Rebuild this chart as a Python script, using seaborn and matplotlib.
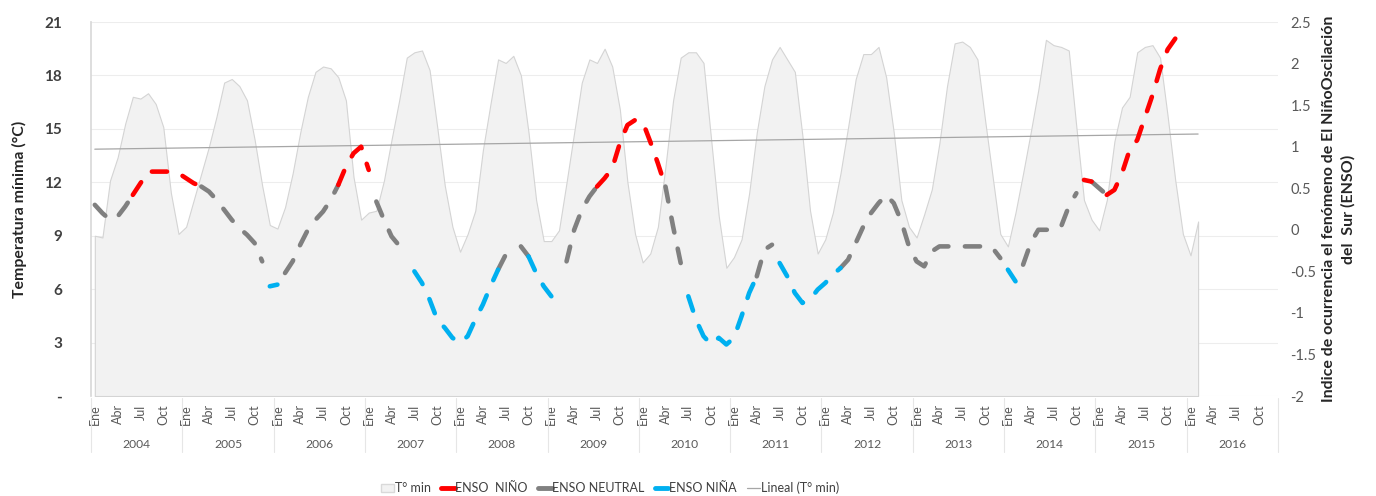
import numpy as np
import pandas as pd
import matplotlib
matplotlib.use("Agg")
import matplotlib.pyplot as plt
import matplotlib.transforms as mtransforms
from matplotlib.patches import Patch
from matplotlib.lines import Line2D
import seaborn as sns

anios = list(range(2004, 2017))
meses = ["Ene", "Feb", "Mar", "Abr", "May", "Jun", "Jul", "Ago", "Sep", "Oct", "Nov", "Dic"]

# T° min mensual (Ene 2004 - Feb 2016)
tmin = [9.0, 8.9, 12.1, 13.4, 15.3, 16.8, 16.7, 17.0, 16.4, 15.1, 11.4, 9.1,
        9.5, 11.0, 12.5, 14.0, 15.7, 17.6, 17.8, 17.4, 16.6, 14.4, 11.8, 9.6,
        9.4, 10.6, 12.5, 14.8, 16.8, 18.2, 18.5, 18.4, 17.9, 16.6, 12.3, 9.9,
        10.3, 10.4, 12.1, 14.4, 16.6, 19.0, 19.3, 19.4, 18.3, 15.1, 11.8, 9.5,
        8.1, 9.1, 10.4, 13.8, 16.4, 18.9, 18.7, 19.1, 18.0, 14.8, 11.0, 8.7,
        8.7, 9.3, 12.0, 14.8, 17.6, 18.9, 18.7, 19.5, 18.5, 16.1, 12.0, 9.1,
        7.5, 8.0, 9.5, 12.9, 16.6, 19.0, 19.3, 19.3, 18.7, 14.4, 10.1, 7.2,
        7.8, 8.8, 11.4, 14.8, 17.4, 18.9, 19.6, 18.9, 18.2, 14.6, 10.4, 8.0,
        8.8, 10.3, 12.5, 15.1, 17.8, 19.2, 19.2, 19.6, 17.9, 14.8, 11.0, 9.5,
        8.9, 10.2, 11.6, 14.2, 17.4, 19.8, 19.9, 19.6, 18.9, 15.5, 12.3, 9.1,
        8.4, 10.3, 12.5, 14.8, 17.2, 20.0, 19.7, 19.6, 19.4, 15.1, 11.0, 9.9,
        9.3, 11.0, 14.3, 16.2, 16.8, 19.3, 19.6, 19.7, 19.0, 15.7, 12.1, 9.1,
        7.9, 9.8]

# ENSO: tramos (mes inicial, valores) de cada serie
enso_nino = [(5, [0.42, 0.56, 0.70, 0.70, 0.70, 0.70, 0.68, 0.62, 0.56, 0.52]),
             (32, [0.54, 0.76, 0.92, 1.00, 0.72]),
             (66, [0.52, 0.62, 0.74, 1.04, 1.26, 1.32, 1.30, 1.06, 0.80, 0.52]),
             (130, [0.60, 0.58]),
             (133, [0.42, 0.48, 0.68, 0.96, 1.08, 1.35, 1.62, 1.93, 2.17, 2.30])]

enso_neutral = [(0, [0.30, 0.20, 0.12, 0.16, 0.28, 0.42]),
                (14, [0.52, 0.46, 0.36, 0.24, 0.12, 0.02, -0.06, -0.16, -0.38]),
                (25, [-0.52, -0.38, -0.18, 0.00, 0.12, 0.22, 0.36, 0.54]),
                (37, [0.34, 0.12, -0.08, -0.19]),
                (53, [-0.48, -0.30]),
                (56, [-0.20, -0.32]),
                (62, [-0.38, 0.00, 0.24, 0.40, 0.52]),
                (75, [0.52, 0.04, -0.40]),
                (87, [-0.56, -0.24, -0.18]),
                (98, [-0.46, -0.36, -0.16, 0.04, 0.20, 0.32, 0.42, 0.32, 0.10, -0.20, -0.38,
                      -0.44, -0.26, -0.20, -0.20, -0.20, -0.20, -0.20, -0.20, -0.20, -0.22, -0.34]),
                (122, [-0.42, -0.16, 0.00, 0.00, 0.00, 0.04, 0.28, 0.44]),
                (131, [0.58, 0.50, 0.42])]

enso_nina = [(23, [-0.68, -0.66]),
             (42, [-0.50, -0.64, -0.84, -1.08, -1.18, -1.30, -1.36, -1.28, -1.08, -0.90, -0.68, -0.48]),
             (57, [-0.32, -0.52, -0.68, -0.80]),
             (78, [-0.80, -1.08, -1.28, -1.38, -1.30, -1.38, -1.30, -1.04, -0.76, -0.56]),
             (90, [-0.40, -0.56, -0.76, -0.88, -0.84, -0.72, -0.64, -0.54, -0.46]),
             (120, [-0.48, -0.62])]

col_nino = "#FF0000"
col_neutral = "#808080"
col_nina = "#00B0F0"


def tramos_df(tramos):
    filas = []
    for k, (ini, vals) in enumerate(tramos):
        for j, v in enumerate(vals):
            filas.append({"mes": ini + j, "valor": v, "tramo": k})
    return pd.DataFrame(filas)


sns.set_theme(style="white")
plt.rcParams["font.family"] = ["Lato", "DejaVu Sans"]

fig = plt.figure(figsize=(13.76, 4.96), dpi=100)
ax = fig.add_axes([91 / 1376, 100 / 496, 1187 / 1376, 374 / 496])

x_t = np.arange(len(tmin))
ax.fill_between(x_t, tmin, 0, facecolor="#F2F2F2", edgecolor="#D4D4D4", linewidth=0.8, zorder=1)

# Tendencia lineal de T° min
coef = np.polyfit(x_t, tmin, 1)
df_tend = pd.DataFrame({"mes": x_t, "tend": np.polyval(coef, x_t)})
sns.lineplot(data=df_tend, x="mes", y="tend", ax=ax, color="#A6A6A6", linewidth=0.9, zorder=2)

ax.set_xlim(-0.5, 155.5)
ax.set_ylim(0, 21)
ax.set_yticks(range(0, 22, 3))
ax.set_yticklabels(["-"] + [str(v) for v in range(3, 22, 3)], fontweight="bold")
ax.yaxis.grid(True, color="#EDEDED", linewidth=0.8)
ax.set_axisbelow(True)
for s in ["top", "right", "bottom"]:
    ax.spines[s].set_visible(False)
ax.spines["left"].set_color("#D9D9D9")

pos = list(range(0, 156, 3))
ax.set_xticks(pos)
ax.set_xticklabels([meses[p % 12] for p in pos], rotation=90)
ax.tick_params(axis="x", length=0, pad=6, labelsize=9, labelcolor="#595959")
ax.tick_params(axis="y", length=0, pad=21, labelsize=11, labelcolor="#404040")
ax.set_xlabel("")
ax.set_ylabel("Temperatura mínima (°C)", fontsize=11.4, fontweight="bold", color="#262626")
ax.yaxis.set_label_coords(-0.054, 0.5)

trans = mtransforms.blended_transform_factory(ax.transData, ax.transAxes)
for k, a in enumerate(anios):
    ax.text(12 * k + 5.5, -0.13, str(a), transform=trans, ha="center", va="center",
            fontsize=8.7, color="#595959")
for k in range(len(anios) + 1):
    ax.plot([12 * k - 0.5, 12 * k - 0.5], [-0.005, -0.15], transform=trans,
            color="#E6E6E6", linewidth=0.8, clip_on=False)

ax2 = ax.twinx()
estilo = dict(linewidth=3.3, linestyle=(0, (3.3, 3.6)), dash_capstyle="round", solid_capstyle="round")
for tramos, col in [(enso_neutral, col_neutral), (enso_nina, col_nina), (enso_nino, col_nino)]:
    sns.lineplot(data=tramos_df(tramos), x="mes", y="valor", units="tramo", estimator=None,
                 ax=ax2, color=col, **estilo)

ax2.set_ylim(-2, 2.5)
ticks2 = np.arange(-2, 2.51, 0.5)
ax2.set_yticks(ticks2)
ax2.set_yticklabels([f"{t:g}" for t in ticks2])
ax2.tick_params(axis="y", length=0, pad=9, labelsize=10.5, labelcolor="#595959")
for s in ax2.spines.values():
    s.set_visible(False)
ax2.set_xlim(-0.5, 155.5)
ax2.set_xlabel("")
ax2.set_ylabel("Indice de ocurrencia el fenómeno de El NiñoOscilación\ndel  Sur (ENSO)",
               fontsize=11.5, fontweight="bold", color="#262626", linespacing=1.45)
ax2.yaxis.set_label_coords(1.037, 0.5)

handles = [Patch(facecolor="#F2F2F2", edgecolor="#D9D9D9"),
           Line2D([], [], color=col_nino, linewidth=3.5),
           Line2D([], [], color=col_neutral, linewidth=3.5),
           Line2D([], [], color=col_nina, linewidth=3.5),
           Line2D([], [], color="#A6A6A6", linewidth=0.9)]
labels = ["T° min", "ENSO  NIÑO", "ENSO NEUTRAL", "ENSO NIÑA", "Lineal (T° min)"]
fig.legend(handles, labels, loc="center", bbox_to_anchor=(610 / 1376, 1 - 488 / 496), ncol=5,
           frameon=False, handlelength=1.1, handletextpad=0.05, columnspacing=0.8,
           fontsize=9.0, labelcolor="#404040")

fig.savefig("out.png", dpi=100)
